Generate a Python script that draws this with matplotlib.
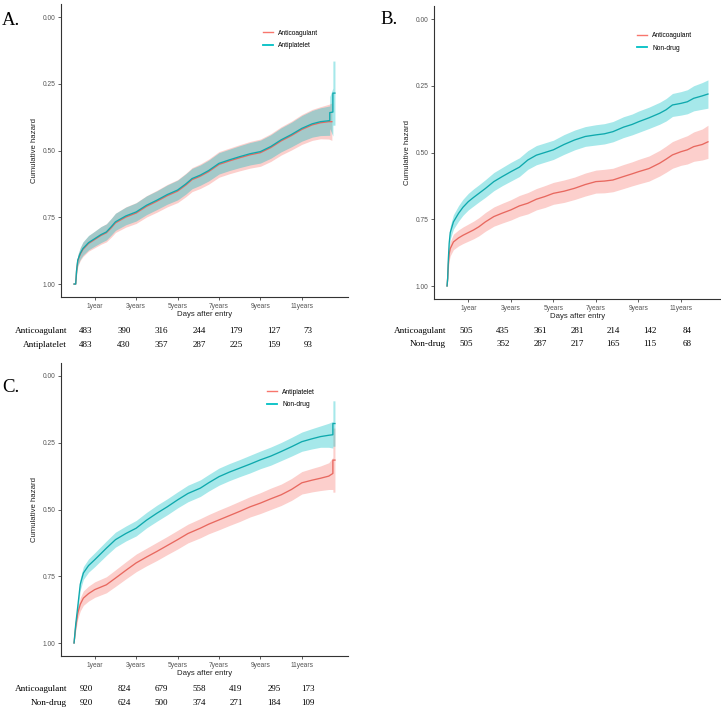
import numpy as np
import matplotlib.pyplot as plt
from matplotlib.lines import Line2D

plt.rcParams['font.family'] = ['Liberation Sans', 'DejaVu Sans']

RED = '#F8766D'
TEAL = '#00BFC4'
RED_LINE = '#E8685F'
TEAL_LINE = '#0EA9AD'

# ---- panel A: Anticoagulant vs Antiplatelet (time in years, survival, ci half width)
a_teal_t = [0, 0.08, 0.12, 0.18, 0.3, 0.43, 0.7, 1.0, 1.3, 1.56, 1.8, 2.0, 2.5, 3.0, 3.5, 4.0, 4.5, 5.0, 5.4, 5.7,
            6.1, 6.5, 7.0, 7.5, 8.0, 8.5, 9.0, 9.5, 10.0, 10.5, 11.0, 11.5, 11.9, 12.35, 12.35, 12.5, 12.5, 12.6]
a_teal_s = [1.0, 1.0, 0.95, 0.91, 0.885, 0.867, 0.845, 0.83, 0.815, 0.805, 0.785, 0.767, 0.745, 0.73, 0.705, 0.686,
            0.665, 0.648, 0.625, 0.605, 0.592, 0.575, 0.548, 0.535, 0.523, 0.512, 0.504, 0.485, 0.46, 0.44, 0.417,
            0.40, 0.392, 0.388, 0.358, 0.356, 0.285, 0.285]
a_teal_ci = [0, 0, 0.015, 0.02, 0.022, 0.025, 0.027, 0.028, 0.03, 0.03, 0.031, 0.032, 0.033, 0.034, 0.035, 0.035,
             0.036, 0.037, 0.038, 0.038, 0.038, 0.039, 0.04, 0.04, 0.041, 0.042, 0.043, 0.044, 0.045, 0.046, 0.048,
             0.05, 0.052, 0.055, 0.06, 0.09, 0.12, 0.12]
a_red_t = [0, 0.08, 0.12, 0.18, 0.3, 0.43, 0.7, 1.0, 1.3, 1.56, 1.8, 2.0, 2.5, 3.0, 3.5, 4.0, 4.5, 5.0, 5.4, 5.7,
           6.1, 6.5, 7.0, 7.5, 8.0, 8.5, 9.0, 9.5, 10.0, 10.5, 11.0, 11.5, 11.9, 12.3, 12.45]
a_red_s = [1.0, 1.0, 0.953, 0.913, 0.888, 0.87, 0.848, 0.833, 0.818, 0.808, 0.789, 0.771, 0.749, 0.734, 0.709, 0.69,
           0.669, 0.652, 0.629, 0.609, 0.596, 0.579, 0.552, 0.539, 0.527, 0.516, 0.508, 0.489, 0.464, 0.444, 0.421,
           0.404, 0.396, 0.392, 0.392]
a_red_ci = [0, 0, 0.016, 0.021, 0.024, 0.027, 0.029, 0.031, 0.033, 0.034, 0.035, 0.036, 0.038, 0.039, 0.04, 0.041,
            0.042, 0.043, 0.044, 0.045, 0.046, 0.047, 0.048, 0.048, 0.049, 0.05, 0.051, 0.052, 0.053, 0.054, 0.056,
            0.058, 0.06, 0.065, 0.07]

# ---- panel B: Anticoagulant vs Non-drug
b_t = [0, 0.03, 0.06, 0.1, 0.15, 0.3, 0.54, 0.75, 1.0, 1.25, 1.5, 1.8, 2.2, 2.6, 3.0, 3.4, 3.8, 4.2, 4.6, 5.0,
       5.5, 6.0, 6.5, 7.0, 7.4, 7.8, 8.3, 8.7, 9.0, 9.5, 10.0, 10.3, 10.6, 11.0, 11.3, 11.6, 12.0, 12.27]
b_teal_s = [1.0, 0.97, 0.9, 0.84, 0.8, 0.76, 0.728, 0.705, 0.684, 0.668, 0.653, 0.635, 0.609, 0.59, 0.572, 0.555,
            0.528, 0.51, 0.5, 0.49, 0.47, 0.453, 0.44, 0.434, 0.43, 0.422, 0.405, 0.395, 0.385, 0.37, 0.353, 0.34,
            0.322, 0.316, 0.31, 0.297, 0.288, 0.281]
b_teal_ci = [0, 0.01, 0.02, 0.024, 0.025, 0.027, 0.029, 0.03, 0.031, 0.032, 0.032, 0.033, 0.034, 0.034, 0.035,
             0.035, 0.035, 0.036, 0.036, 0.036, 0.037, 0.037, 0.037, 0.038, 0.038, 0.038, 0.039, 0.039, 0.04, 0.04,
             0.041, 0.042, 0.043, 0.044, 0.045, 0.047, 0.05, 0.053]
b_red_s = [1.0, 0.97, 0.92, 0.88, 0.86, 0.835, 0.82, 0.81, 0.8, 0.79, 0.778, 0.76, 0.74, 0.727, 0.715, 0.7, 0.69,
           0.675, 0.665, 0.653, 0.645, 0.634, 0.62, 0.609, 0.607, 0.603, 0.59, 0.58, 0.572, 0.56, 0.54, 0.525,
           0.509, 0.497, 0.49, 0.478, 0.47, 0.46]
b_red_ci = [0, 0.01, 0.02, 0.025, 0.027, 0.029, 0.03, 0.031, 0.032, 0.033, 0.034, 0.035, 0.036, 0.037, 0.038,
            0.039, 0.04, 0.04, 0.041, 0.041, 0.042, 0.042, 0.043, 0.043, 0.044, 0.044, 0.045, 0.045, 0.046, 0.047,
            0.048, 0.049, 0.05, 0.051, 0.053, 0.055, 0.058, 0.062]

# ---- panel C: Antiplatelet vs Non-drug
c_t = [0, 0.08, 0.18, 0.3, 0.45, 0.7, 1.0, 1.56, 2.0, 2.5, 3.0, 3.5, 4.0, 4.5, 5.0, 5.5, 6.1, 6.5, 7.0, 7.5,
       8.0, 8.5, 9.0, 9.5, 10.0, 10.5, 11.0, 11.5, 11.9, 12.3, 12.5, 12.5, 12.6]
c_teal_s = [1.0, 0.93, 0.863, 0.78, 0.738, 0.71, 0.688, 0.645, 0.613, 0.59, 0.57, 0.54, 0.514, 0.49, 0.464, 0.44,
            0.42, 0.40, 0.377, 0.36, 0.345, 0.33, 0.314, 0.30, 0.283, 0.265, 0.246, 0.235, 0.227, 0.222, 0.22,
            0.178, 0.178]
c_teal_ci = [0, 0.015, 0.02, 0.022, 0.024, 0.025, 0.026, 0.027, 0.028, 0.028, 0.029, 0.029, 0.03, 0.03, 0.03,
             0.031, 0.031, 0.031, 0.032, 0.032, 0.032, 0.033, 0.033, 0.034, 0.034, 0.035, 0.036, 0.038, 0.04,
             0.045, 0.05, 0.085, 0.085]
c_red_s = [1.0, 0.94, 0.888, 0.855, 0.832, 0.815, 0.80, 0.782, 0.757, 0.728, 0.70, 0.678, 0.657, 0.635, 0.613,
           0.59, 0.57, 0.555, 0.539, 0.523, 0.507, 0.49, 0.476, 0.46, 0.445, 0.425, 0.40, 0.39, 0.383, 0.375,
           0.365, 0.315, 0.315]
c_red_ci = [0, 0.015, 0.022, 0.025, 0.027, 0.028, 0.029, 0.03, 0.031, 0.032, 0.033, 0.033, 0.034, 0.034, 0.035,
            0.035, 0.036, 0.036, 0.037, 0.037, 0.038, 0.038, 0.039, 0.04, 0.04, 0.041, 0.042, 0.044, 0.046, 0.05,
            0.06, 0.12, 0.12]

# ---- number at risk tables
a_rows = ['Anticoagulant', 'Antiplatelet']
a_risk = [[483, 390, 316, 244, 179, 127, 73], [483, 430, 357, 287, 225, 159, 93]]
b_rows = ['Anticoagulant', 'Non-drug']
b_risk = [[505, 435, 361, 281, 214, 142, 84], [505, 352, 287, 217, 165, 115, 68]]
c_rows = ['Anticoagulant', 'Non-drug']
c_risk = [[920, 824, 679, 558, 419, 295, 173], [920, 624, 500, 374, 271, 184, 109]]

legend_a = ['Anticoagulant', 'Antiplatelet']
legend_b = ['Anticoagulant', 'Non-drug']
legend_c = ['Antiplatelet', 'Non-drug']

tick_years = [1, 3, 5, 7, 9, 11]
tick_labels = ['1year', '3years', '5years', '7years', '9years', '11years']
y_ticks = [0, 0.25, 0.5, 0.75, 1.0]
y_labels = ['0.00', '0.25', '0.50', '0.75', '1.00']

W, H = 721, 708
fig = plt.figure(figsize=(W / 100, H / 100), dpi=100)


def px_axes(left, top, right, bottom):
    return fig.add_axes([left / W, 1 - bottom / H, (right - left) / W, (bottom - top) / H])


def draw_curve(ax, t, s, ci, line_col, fill_col):
    days = np.array(t) * 365
    s = np.array(s)
    ci = np.array(ci)
    ax.fill_between(days, s - ci, s + ci, color=fill_col, alpha=0.35, lw=0)
    ax.plot(days, s, color=line_col, lw=0.95)


def style_axes(ax, xmax, labels, leg_x, leg_y):
    ax.set_xlim(-0.05 * xmax * 365, 1.05 * xmax * 365)
    ax.set_ylim(1.05, -0.05)
    ax.set_xticks([y * 365 for y in tick_years])
    ax.set_xticklabels(tick_labels)
    ax.set_yticks(y_ticks)
    ax.set_yticklabels(y_labels)
    for side in ['top', 'right']:
        ax.spines[side].set_visible(False)
    for side in ['left', 'bottom']:
        ax.spines[side].set_color('#333333')
        ax.spines[side].set_linewidth(0.8)
    ax.tick_params(labelsize=4.8, labelcolor='#555555', color='#444444', length=2.5, width=0.6, pad=1.5)
    ax.set_xlabel('Days after entry', fontsize=5.6, color='#222222', labelpad=1)
    ax.set_ylabel('Cumulative hazard', fontsize=5.6, color='#222222', labelpad=3)
    handles = [Line2D([], [], color=RED, lw=1), Line2D([], [], color=TEAL, lw=1.3)]
    fig.legend(handles, labels, loc='center left', bbox_to_anchor=(leg_x / W, 1 - leg_y / H),
               frameon=False, fontsize=4.75, handlelength=1.5, handletextpad=0.8,
               labelspacing=0.85, borderpad=0, borderaxespad=0)


def risk_table(rows, risk, label_x, xs, ys):
    for name, vals, y in zip(rows, risk, ys):
        fig.text(label_x / W, 1 - y / H, name, ha='right', va='center',
                 family='Liberation Serif', fontsize=6.7)
        for x, v in zip(xs, vals):
            fig.text(x / W, 1 - y / H, str(v), ha='center', va='center',
                     family='Liberation Serif', fontsize=6.5)


# A
ax_a = px_axes(61, 3.65, 348, 297.4)
draw_curve(ax_a, a_red_t, a_red_s, a_red_ci, RED_LINE, RED)
draw_curve(ax_a, a_teal_t, a_teal_s, a_teal_ci, TEAL_LINE, TEAL)
style_axes(ax_a, 12.6, legend_a, 263, 39.5)
risk_table(a_rows, a_risk, 67, [86, 124, 161, 199, 236, 274, 308], [331, 345])

# B
ax_b = px_axes(434, 5.65, 721, 299.35)
draw_curve(ax_b, b_t, b_red_s, b_red_ci, RED_LINE, RED)
draw_curve(ax_b, b_t, b_teal_s, b_teal_ci, TEAL_LINE, TEAL)
style_axes(ax_b, 12.27, legend_b, 637, 42)
risk_table(b_rows, b_risk, 446, [466, 503, 540, 577, 613, 650, 687], [331, 344])

# C
ax_c = px_axes(61, 362.65, 348, 656.35)
draw_curve(ax_c, c_t, c_red_s, c_red_ci, RED_LINE, RED)
draw_curve(ax_c, c_t, c_teal_s, c_teal_ci, TEAL_LINE, TEAL)
style_axes(ax_c, 12.6, legend_c, 267, 398.5)
risk_table(c_rows, c_risk, 67, [86, 124, 161, 199, 236, 274, 308], [689, 703])

# panel letters
for letter, x, y in [('A.', 2, 25), ('B.', 380, 24), ('C.', 2, 392.5)]:
    fig.text(x / W, 1 - y / H, letter, family='Liberation Serif', fontsize=13.5, va='baseline')

fig.savefig('out.png', dpi=100)
